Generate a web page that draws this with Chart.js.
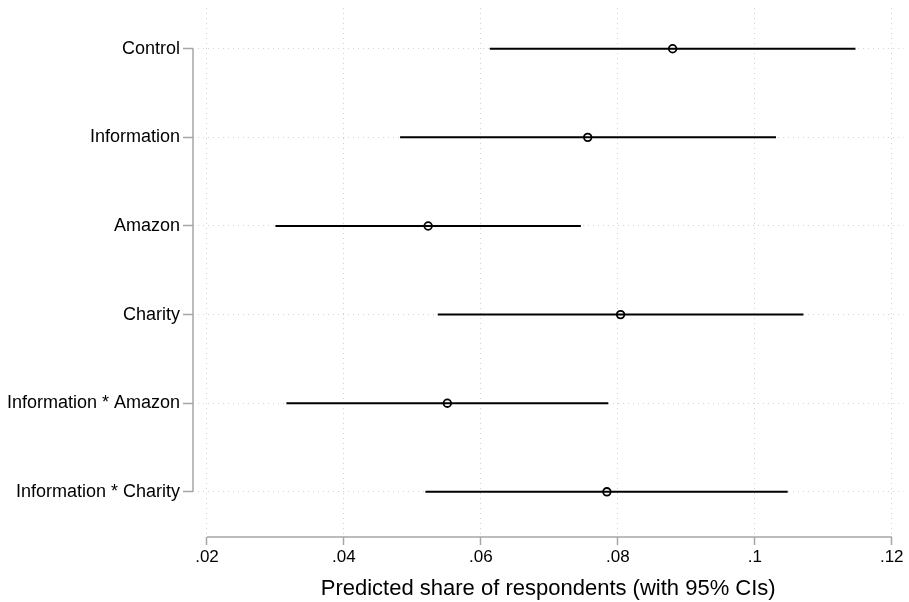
<!DOCTYPE html>
<html>
<head>
<meta charset="utf-8">
<script src="https://cdn.jsdelivr.net/npm/chart.js@4.4.1/dist/chart.umd.min.js"></script>
<style>
  html, body { margin: 0; padding: 0; background: #fff; }
  #wrap { width: 909px; height: 602px; }
</style>
</head>
<body>
<div id="wrap"><canvas id="coefChart"></canvas></div>
<script>
// Data
const categories = ['Control', 'Information', 'Amazon', 'Charity', 'Information * Amazon', 'Information * Charity'];
const estimates = [0.0880, 0.0756, 0.0523, 0.0804, 0.0551, 0.0784];
const ciLower   = [0.0613, 0.0482, 0.0300, 0.0537, 0.0316, 0.0519];
const ciUpper   = [0.1147, 0.1031, 0.0746, 0.1071, 0.0786, 0.1048];
const xTicks = [0.02, 0.04, 0.06, 0.08, 0.10, 0.12];
const xTickLabels = ['.02', '.04', '.06', '.08', '.1', '.12'];
const xTitle = 'Predicted share of respondents (with 95% CIs)';

const axisColor = '#a6a6a6';
const gridColor = '#d2d2d2';
const fontFamily = '"Liberation Sans", Arial, Helvetica, sans-serif';

// one line per confidence interval
const ciSets = categories.map((c, i) => ({
    type: 'line',
    data: [{ x: ciLower[i], y: i }, { x: ciUpper[i], y: i }],
    borderColor: '#000',
    borderWidth: 2,
    pointRadius: 0,
    pointHoverRadius: 0,
    fill: false
}));

// Stata-style axis lines that only span the tick range
const axisLines = {
    id: 'axisLines',
    afterDraw(chart) {
        const { ctx, chartArea, scales: { x, y } } = chart;
        ctx.save();
        ctx.strokeStyle = axisColor;
        ctx.lineWidth = 1.5;
        ctx.beginPath();
        ctx.moveTo(chartArea.left, y.getPixelForValue(0));
        ctx.lineTo(chartArea.left, y.getPixelForValue(categories.length - 1));
        ctx.moveTo(x.getPixelForValue(xTicks[0]), chartArea.bottom);
        ctx.lineTo(x.getPixelForValue(xTicks[xTicks.length - 1]), chartArea.bottom);
        ctx.stroke();
        ctx.restore();
    }
};

const ctx = document.getElementById('coefChart').getContext('2d');
new Chart(ctx, {
    type: 'scatter',
    data: {
        datasets: [...ciSets, {
            type: 'scatter',
            data: categories.map((c, i) => ({ x: estimates[i], y: i })),
            pointStyle: 'circle',
            pointRadius: 3.8,
            pointHoverRadius: 3.8,
            pointBackgroundColor: '#fff',
            pointBorderColor: '#000',
            pointBorderWidth: 1.8
        }]
    },
    options: {
        responsive: true,
        maintainAspectRatio: false,
        animation: false,
        layout: { padding: { top: 8, right: 3, left: 0, bottom: 0 } },
        plugins: {
            legend: { display: false },
            tooltip: { enabled: false }
        },
        scales: {
            x: {
                type: 'linear',
                min: 0.01796,
                max: 0.1217,
                afterBuildTicks: s => { s.ticks = xTicks.map(v => ({ value: v })); },
                afterFit: s => { s.height = 65; s.paddingLeft = 0; s.paddingRight = 0; },
                border: { display: false, dash: [1, 4] },
                grid: {
                    color: gridColor,
                    lineWidth: 1,
                    tickLength: 8,
                    tickColor: axisColor,
                    tickWidth: 1.5,
                    tickBorderDash: []
                },
                ticks: {
                    color: '#000',
                    font: { family: fontFamily, size: 17 },
                    padding: 2,
                    maxRotation: 0,
                    callback: (v, i) => xTickLabels[i]
                },
                title: {
                    display: true,
                    text: xTitle,
                    color: '#000',
                    font: { family: fontFamily, size: 22 },
                    padding: { top: 0, bottom: 0 }
                }
            },
            y: {
                type: 'linear',
                reverse: true,
                min: -0.46,
                max: 5.51,
                afterBuildTicks: s => { s.ticks = categories.map((c, i) => ({ value: i })); },
                afterFit: s => { s.width = 193; s.paddingTop = 0; s.paddingBottom = 0; },
                border: { display: false, dash: [1, 4] },
                grid: {
                    color: gridColor,
                    lineWidth: 1,
                    tickLength: 10,
                    tickColor: axisColor,
                    tickWidth: 1.5,
                    tickBorderDash: []
                },
                ticks: {
                    color: '#000',
                    font: { family: fontFamily, size: 18 },
                    padding: 3,
                    callback: v => categories[v]
                }
            }
        }
    },
    plugins: [axisLines]
});
</script>
</body>
</html>
